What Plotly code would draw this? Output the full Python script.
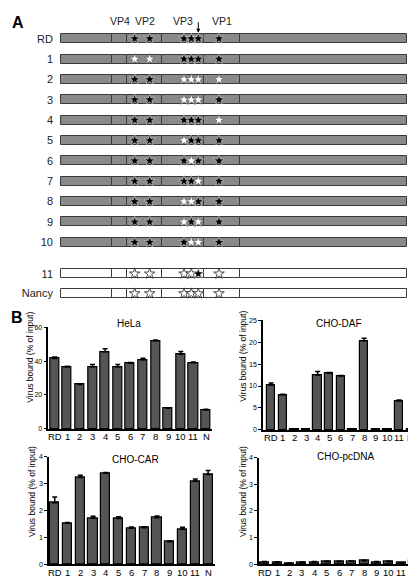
import plotly.graph_objects as go

W, H = 416, 579

# ---------------- Panel A data ----------------
genomes = ["RD", "1", "2", "3", "4", "5", "6", "7", "8", "9", "10", "11", "Nancy"]
row_pos = [0, 1, 2, 3, 4, 5, 6, 7, 8, 9, 10, 11.55, 12.52]
backbone = ["RD"] * 11 + ["Nancy"] * 2
segment_bounds = [0, 51, 66, 101, 143, 179, 346]
protein_names = ["VP4", "VP2", "VP3", "VP1"]
site_pos = [73.7, 88.7, 123, 130.3, 137.3, 158]
arrow_site = 4
# 1 = RD residue (filled star), 0 = Nancy residue (open star)
site_patterns = [
    [1, 1, 1, 1, 1, 1],
    [0, 0, 1, 1, 1, 1],
    [1, 1, 0, 0, 0, 0],
    [1, 1, 0, 0, 0, 1],
    [1, 1, 1, 1, 1, 0],
    [1, 1, 0, 1, 1, 1],
    [1, 1, 1, 0, 1, 1],
    [1, 1, 1, 1, 0, 1],
    [1, 1, 0, 0, 1, 1],
    [1, 1, 0, 1, 0, 1],
    [1, 1, 1, 0, 0, 1],
    [0, 0, 0, 0, 1, 0],
    [0, 0, 0, 0, 0, 0],
]

# ---------------- Panel B data ----------------
viruses = ["RD", "1", "2", "3", "4", "5", "6", "7", "8", "9", "10", "11", "N"]
hela = [41.5, 36.5, 26.2, 36.6, 45.5, 36.6, 38.7, 40.7, 52.0, 12.1, 44.0, 39.0, 11.2]
hela_err = [0.9, 0.5, 0.3, 1.4, 1.8, 1.3, 0.4, 1.0, 0.4, 0.4, 1.6, 0.4, 0.4]
daf = [10.2, 8.0, 0.1, 0.1, 12.5, 12.9, 12.3, 0.1, 20.3, 0.1, 0.1, 6.6, 0.1]
daf_err = [0.5, 0.1, 0.03, 0.03, 0.8, 0.2, 0.1, 0.03, 0.6, 0.03, 0.03, 0.2, 0.03]
car = [2.28, 1.52, 3.22, 1.71, 3.38, 1.70, 1.34, 1.36, 1.73, 0.84, 1.30, 3.08, 3.33]
car_err = [0.22, 0.03, 0.09, 0.07, 0.03, 0.06, 0.04, 0.03, 0.06, 0.02, 0.07, 0.09, 0.15]
pcdna = [0.08, 0.07, 0.04, 0.06, 0.08, 0.09, 0.09, 0.10, 0.12, 0.08, 0.09, 0.05, 0.12]
pcdna_err = [0.02, 0.02, 0.01, 0.02, 0.02, 0.02, 0.02, 0.02, 0.03, 0.02, 0.02, 0.01, 0.03]

FONT = "Liberation Sans, Arial, sans-serif"
idx = list(range(len(viruses)))


def fx(px):
    return px / W


def fy(py):
    return 1 - py / H


fig = go.Figure()

# ---- Panel A: genome bars ----
seg_colors = ["#8a8a8a" if b == "RD" else "white" for b in backbone]
for i in range(len(segment_bounds) - 1):
    start, end = segment_bounds[i], segment_bounds[i + 1]
    fig.add_trace(go.Bar(
        y=row_pos, x=[end - start] * len(row_pos), base=[start] * len(row_pos),
        orientation="h", width=0.44,
        marker=dict(color=seg_colors, line=dict(color="#3a3a3a", width=1)),
        xaxis="x", yaxis="y", showlegend=False, hoverinfo="skip"))

fb_x, fb_y, wg_x, wg_y, wo_x, wo_y = [], [], [], [], [], []
for r, pat in enumerate(site_patterns):
    for s, v in enumerate(pat):
        if v == 1:
            fb_x.append(site_pos[s]); fb_y.append(row_pos[r])
        elif backbone[r] == "RD":
            wg_x.append(site_pos[s]); wg_y.append(row_pos[r])
        else:
            wo_x.append(site_pos[s]); wo_y.append(row_pos[r])

fig.add_trace(go.Scatter(x=fb_x, y=fb_y, mode="markers", xaxis="x", yaxis="y",
                         marker=dict(symbol="star", size=8, color="black",
                                     line=dict(color="#d0d0d0", width=0.6)),
                         showlegend=False, hoverinfo="skip", cliponaxis=False))
fig.add_trace(go.Scatter(x=wg_x, y=wg_y, mode="markers", xaxis="x", yaxis="y",
                         marker=dict(symbol="star", size=8, color="white",
                                     line=dict(color="#555555", width=0.6)),
                         showlegend=False, hoverinfo="skip", cliponaxis=False))
fig.add_trace(go.Scatter(x=wo_x, y=wo_y, mode="markers", xaxis="x", yaxis="y",
                         marker=dict(symbol="star", size=8, color="white",
                                     line=dict(color="#222222", width=0.8)),
                         showlegend=False, hoverinfo="skip", cliponaxis=False))

# ---- Panel B: bar charts ----
panels = [
    ("x2", "y2", hela, hela_err, 422),
    ("x3", "y3", daf, daf_err, 423),
    ("x4", "y4", car, car_err, 559),
    ("x5", "y5", pcdna, pcdna_err, 559),
]
for xa, ya, vals, errs, _ in panels:
    fig.add_trace(go.Bar(
        x=idx, y=vals, xaxis=xa, yaxis=ya, width=0.72,
        marker=dict(color="#555555", line=dict(color="black", width=1.2)),
        error_y=dict(type="data", symmetric=False, array=errs,
                     arrayminus=[0] * len(errs), color="black",
                     thickness=1.5, width=2.5, visible=True),
        showlegend=False, hoverinfo="skip"))


def bar_xaxis(dom, rng, anchor):
    return dict(domain=[fx(dom[0]), fx(dom[1])], range=rng, type="linear",
                anchor=anchor, showline=True, linecolor="black", linewidth=1.5,
                ticks="", showgrid=False, zeroline=False, showticklabels=False,
                fixedrange=True)


def bar_yaxis(dom, rng, tickvals, anchor):
    return dict(domain=[fy(dom[1]), fy(dom[0])], range=rng, anchor=anchor,
                tickvals=tickvals, ticks="outside", ticklen=3, tickwidth=1,
                tickcolor="black", showline=True, linecolor="black", linewidth=1.5,
                showgrid=False, zeroline=False,
                tickfont=dict(family=FONT, size=7, color="black"), fixedrange=True)


annotations = []
# category labels under each bar panel
for xa, ya, vals, errs, base_px in panels:
    for i, lab in enumerate(viruses):
        annotations.append(dict(text=lab, x=i, y=fy(base_px + 8), xref=xa, yref="paper",
                                xanchor="center", yanchor="middle", showarrow=False,
                                borderpad=0,
                                font=dict(family=FONT, size=9.5, color="black")))
# panel letters
annotations.append(dict(text="<b>A</b>", x=fx(2), y=fy(11), xref="paper", yref="paper",
                        xanchor="left", yanchor="middle", showarrow=False,
                        font=dict(family=FONT, size=16, color="black")))
annotations.append(dict(text="<b>B</b>", x=fx(1), y=fy(309), xref="paper", yref="paper",
                        xanchor="left", yanchor="middle", showarrow=False,
                        font=dict(family=FONT, size=16, color="black")))
# protein labels
for k, name in enumerate(protein_names):
    cx = (segment_bounds[k + 1] + segment_bounds[k + 2]) / 2
    annotations.append(dict(text=name, x=cx, y=fy(9), xref="x", yref="paper",
                            xanchor="center", yanchor="middle", showarrow=False,
                            font=dict(family=FONT, size=10.5, color="#222222")))
# arrow
annotations.append(dict(text="", x=site_pos[arrow_site], y=-0.29, xref="x", yref="y",
                        showarrow=True, ax=0, ay=-12, arrowhead=2, arrowsize=0.8,
                        arrowwidth=1, arrowcolor="black"))
# titles of bar panels
for txt, cx, cy in [("HeLa", 121, 315), ("CHO-DAF", 331, 315),
                    ("CHO-CAR", 127, 453), ("CHO-pcDNA", 338, 450)]:
    annotations.append(dict(text=txt, x=fx(cx), y=fy(cy), xref="paper", yref="paper",
                            xanchor="center", yanchor="middle", showarrow=False,
                            font=dict(family=FONT, size=10, color="black")))
# y axis titles
for cx, cy in [(22, 350), (235, 349), (24, 486), (235, 486)]:
    annotations.append(dict(text="Virus bound (% of input)", x=fx(cx), y=fy(cy),
                            xref="paper", yref="paper", textangle=-90,
                            xanchor="center", yanchor="middle", showarrow=False,
                            font=dict(family=FONT, size=8.5, color="black")))

fig.update_layout(
    width=W, height=H, margin=dict(l=0, r=0, t=0, b=0),
    paper_bgcolor="white", plot_bgcolor="rgba(0,0,0,0)",
    barmode="overlay", bargap=0, showlegend=False,
    font=dict(family=FONT, color="black"),
    xaxis=dict(domain=[fx(52), fx(400)], range=[-1, 347], visible=False,
               fixedrange=True, anchor="y"),
    yaxis=dict(domain=[fy(300), fy(0)], range=[13.25, -1.311], anchor="x",
               tickvals=row_pos, ticktext=genomes, ticks="", showline=False,
               showgrid=False, zeroline=False, ticklabelstandoff=6,
               tickfont=dict(family=FONT, size=11, color="#222222"), fixedrange=True),
    xaxis2=bar_xaxis((40.4, 204.3), [-0.5, 12.5], "y2"),
    yaxis2=bar_yaxis((319, 422), [0, 60], [0, 20, 40, 60], "x2"),
    xaxis3=bar_xaxis((255, 408.5), [-0.7, 12.5], "y3"),
    yaxis3=bar_yaxis((312, 423), [0, 25], [0, 5, 10, 15, 20, 25], "x3"),
    xaxis4=bar_xaxis((41, 206.5), [-0.45, 12.5], "y4"),
    yaxis4=bar_yaxis((450, 559), [0, 4], [0, 1, 2, 3, 4], "x4"),
    xaxis5=bar_xaxis((251, 412), [-0.45, 12.5], "y5"),
    yaxis5=bar_yaxis((451, 559), [0, 4], [0, 1, 2, 3, 4], "x5"),
    annotations=annotations,
)

fig.write_html("out.html")
